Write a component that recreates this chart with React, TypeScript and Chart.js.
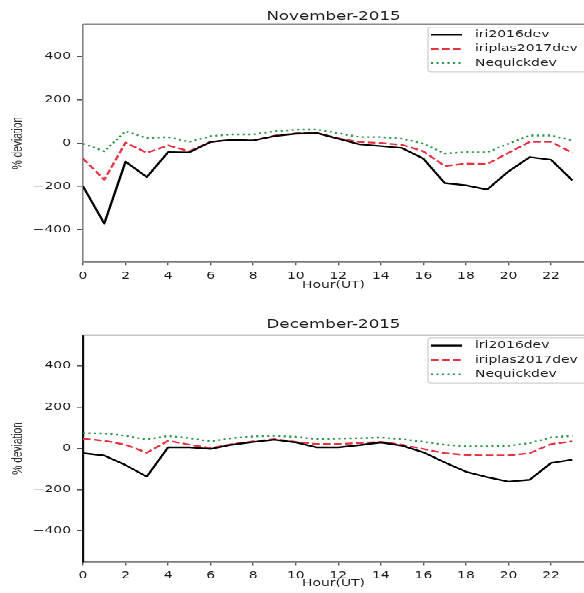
import React, { useEffect, useRef } from "react";
import { Chart, registerables } from "chart.js";

Chart.register(...registerables);

// ---------- data ----------
const hours = [0, 1, 2, 3, 4, 5, 6, 7, 8, 9, 10, 11, 12, 13, 14, 15, 16, 17, 18, 19, 20, 21, 22, 23];
const xTicks = [0, 2, 4, 6, 8, 10, 12, 14, 16, 18, 20, 22];
const yTicks = [-400, -200, 0, 200, 400];
const seriesNames = ["iri2016dev", "iriplas2017dev", "Nequickdev"];

const novIri = [-200, -372, -86, -157, -42, -43, 5, 15, 12, 32, 43, 46, 20, -6, -14, -23, -72, -185, -195, -215, -131, -65, -77, -172];
const novIriplas = [-72, -169, 2, -45, -11, -38, 6, 15, 12, 34, 45, 47, 22, 5, 0, -8, -38, -106, -95, -97, -45, 6, 6, -45];
const novNequick = [-3, -38, 54, 23, 28, 5, 32, 40, 40, 54, 62, 63, 45, 28, 28, 20, -3, -48, -42, -43, -3, 35, 35, 12];

const decIri = [-23, -35, -81, -137, 5, 5, -3, 18, 31, 42, 29, 5, 5, 16, 29, 13, -19, -68, -113, -140, -161, -152, -71, -55];
const decIriplas = [47, 37, 18, -21, 37, 18, 2, 21, 34, 45, 32, 21, 21, 26, 32, 18, -3, -23, -32, -34, -34, -23, 21, 34];
const decNequick = [74, 73, 61, 44, 60, 50, 34, 50, 58, 61, 56, 45, 48, 50, 53, 45, 32, 18, 10, 10, 13, 26, 53, 61];

// ---------- layout constants ----------
const SQUEEZE = 0.7; // the reference is vertically compressed
const WIDTH = 584;
const FONT = "DejaVu Sans";

type Panel = {
  title: string;
  iri: number[];
  iriplas: number[];
  nequick: number[];
  canvasH: number;
  areaTop: number;
  areaBottom: number;
  titleCenter: number;
  xTitleCenter: number;
  leftSpine: string;
  leftSpineW: number;
};

const panels: Panel[] = [
  {
    title: "November-2015",
    iri: novIri,
    iriplas: novIriplas,
    nequick: novNequick,
    canvasH: 429,
    areaTop: 34.3,
    areaBottom: 374.3,
    titleCenter: 23.5,
    xTitleCenter: 32.7,
    leftSpine: "#858585",
    leftSpineW: 1.6,
  },
  {
    title: "December-2015",
    iri: decIri,
    iriplas: decIriplas,
    nequick: decNequick,
    canvasH: 418,
    areaTop: 49.6,
    areaBottom: 373.4,
    titleCenter: 35,
    xTitleCenter: 30.5,
    leftSpine: "#111111",
    leftSpineW: 2.2,
  },
];

const frameLegendPlugin = {
  id: "mplFrameLegend",
  afterDatasetsDraw(chart: any) {
    const { ctx, chartArea: a } = chart;
    ctx.save();
    // top spine
    ctx.strokeStyle = "#8a8a8a";
    ctx.lineWidth = 1.8;
    ctx.beginPath();
    ctx.moveTo(a.left, a.top);
    ctx.lineTo(chart.width + 2, a.top);
    ctx.stroke();

    // legend frame
    const bx = 428;
    const by = a.top + 4.3;
    const bw = chart.width + 10 - bx;
    const bh = 64.2;
    const r = 3;
    ctx.beginPath();
    ctx.moveTo(bx + r, by);
    ctx.lineTo(bx + bw - r, by);
    ctx.quadraticCurveTo(bx + bw, by, bx + bw, by + r);
    ctx.lineTo(bx + bw, by + bh - r);
    ctx.quadraticCurveTo(bx + bw, by + bh, bx + bw - r, by + bh);
    ctx.lineTo(bx + r, by + bh);
    ctx.quadraticCurveTo(bx, by + bh, bx, by + bh - r);
    ctx.lineTo(bx, by + r);
    ctx.quadraticCurveTo(bx, by, bx + r, by);
    ctx.closePath();
    ctx.fillStyle = "rgba(255,255,255,0.85)";
    ctx.fill();
    ctx.strokeStyle = "#d0d0d0";
    ctx.lineWidth = 1.3;
    ctx.stroke();

    chart.data.datasets.forEach((ds: any, i: number) => {
      const y = a.top + 15 + 20.5 * i;
      ctx.strokeStyle = ds.borderColor;
      ctx.lineWidth = ds.borderWidth;
      ctx.setLineDash(ds.borderDash || []);
      ctx.beginPath();
      ctx.moveTo(431, y);
      ctx.lineTo(462, y);
      ctx.stroke();
      ctx.setLineDash([]);
      ctx.fillStyle = "#1a1a1a";
      ctx.font = `13.9px "${FONT}"`;
      ctx.textBaseline = "middle";
      ctx.textAlign = "left";
      ctx.fillText(ds.label, 475, y);
    });
    ctx.restore();
  },
};

function PanelChart({ p }: { p: Panel }) {
  const ref = useRef<HTMLCanvasElement | null>(null);

  useEffect(() => {
    const canvas = ref.current;
    if (!canvas) return;
    const titleLH = 16.7 * 1.2;
    const titlePadTop = p.titleCenter - titleLH / 2;
    const titlePadBottom = p.areaTop - titlePadTop - titleLH;
    const xAxisH = p.canvasH - p.areaBottom;
    const xTitleLH = 13.9 * 1.2;
    const xTitlePadBottom = xAxisH - xTitleLH / 2 - p.xTitleCenter;

    const mk = (vals: number[]) => hours.map((h, i) => ({ x: h, y: vals[i] }));

    const chart = new Chart(canvas, {
      type: "line",
      data: {
        datasets: [
          {
            label: seriesNames[0],
            data: mk(p.iri),
            borderColor: "#000000",
            borderWidth: 2.4,
            pointRadius: 0,
            borderJoinStyle: "round",
            fill: false,
          },
          {
            label: seriesNames[1],
            data: mk(p.iriplas),
            borderColor: "#e6323f",
            borderWidth: 2.4,
            borderDash: [7.7, 3.3],
            pointRadius: 0,
            borderJoinStyle: "round",
            fill: false,
          },
          {
            label: seriesNames[2],
            data: mk(p.nequick),
            borderColor: "#2a9447",
            borderWidth: 2.4,
            borderDash: [2.1, 3.4],
            pointRadius: 0,
            borderJoinStyle: "round",
            fill: false,
          },
        ],
      },
      options: {
        responsive: false,
        animation: false,
        devicePixelRatio: 1,
        events: [],
        layout: { padding: { left: 0, right: 0, top: 0, bottom: 0 } },
        plugins: {
          legend: { display: false },
          tooltip: { enabled: false },
          title: {
            display: true,
            text: p.title,
            fullSize: false,
            color: "#1a1a1a",
            font: { family: FONT, size: 16.7, weight: "normal", lineHeight: 1.2 },
            padding: { top: titlePadTop, bottom: titlePadBottom },
          },
        },
        scales: {
          x: {
            type: "linear",
            min: 0,
            max: 23.55,
            afterBuildTicks: (s: any) => {
              s.ticks = xTicks.map((v) => ({ value: v }));
            },
            afterFit: (s: any) => {
              s.height = xAxisH;
            },
            grid: {
              display: true,
              drawOnChartArea: false,
              drawTicks: true,
              tickLength: 5,
              color: "#555555",
              lineWidth: 1.4,
            },
            border: { display: true, color: "#7a7a7a", width: 1.8 },
            ticks: {
              color: "#1a1a1a",
              font: { family: FONT, size: 13.9 },
              padding: 6.5,
              maxRotation: 0,
              autoSkip: false,
              callback: (v: any) => String(v),
            },
            title: {
              display: true,
              text: "Hour(UT)",
              color: "#1a1a1a",
              font: { family: FONT, size: 13.9, lineHeight: 1.2 },
              padding: { top: 0, bottom: xTitlePadBottom },
            },
          },
          y: {
            type: "linear",
            min: -550,
            max: 550,
            afterBuildTicks: (s: any) => {
              s.ticks = yTicks.map((v) => ({ value: v }));
            },
            afterFit: (s: any) => {
              s.width = 83;
            },
            grid: {
              display: true,
              drawOnChartArea: false,
              drawTicks: true,
              tickLength: 6,
              color: "#555555",
              lineWidth: 1.6,
            },
            border: { display: true, color: p.leftSpine, width: p.leftSpineW },
            ticks: {
              color: "#1a1a1a",
              font: { family: FONT, size: 13.9 },
              padding: 6,
              autoSkip: false,
              callback: (v: any) => String(v).replace("-", "\u2212"),
            },
            title: {
              display: true,
              text: "% deviation",
              color: "#333333",
              font: { family: "Liberation Sans", size: 14.5, lineHeight: 1.2 },
              padding: { top: 9.3, bottom: 0 },
            },
          },
        },
      },
      plugins: [frameLegendPlugin],
    } as any);

    return () => chart.destroy();
  }, [p]);

  return (
    <canvas
      ref={ref}
      width={WIDTH}
      height={p.canvasH}
      style={{ display: "block", width: WIDTH + "px", height: p.canvasH + "px" }}
    />
  );
}

export default function App() {
  useEffect(() => {
    document.body.style.overflow = "hidden";
  }, []);
  const total = panels.reduce((s, p) => s + p.canvasH, 0);
  return (
    <div
      style={{
        position: "absolute",
        left: 0,
        top: 0,
        width: WIDTH + "px",
        height: total + "px",
        transform: `scaleY(${SQUEEZE})`,
        transformOrigin: "0 0",
        background: "#ffffff",
      }}
    >
      {panels.map((p) => (
        <PanelChart key={p.title} p={p} />
      ))}
    </div>
  );
}
